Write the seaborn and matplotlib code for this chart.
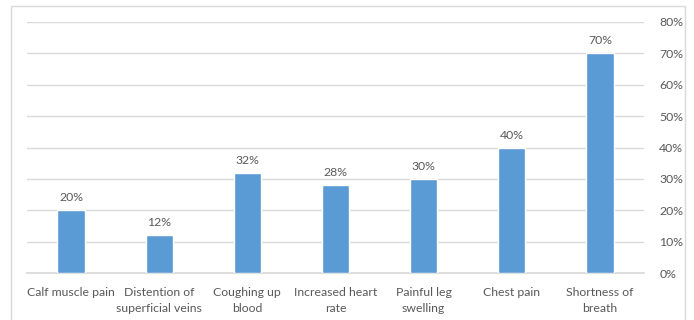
import matplotlib
matplotlib.use("Agg")
import matplotlib.pyplot as plt
from matplotlib.patches import Rectangle
from matplotlib.ticker import PercentFormatter
import seaborn as sns
import pandas as pd

symptoms = ["Calf muscle pain", "Distention of\nsuperficial veins", "Coughing up\nblood",
            "Increased heart\nrate", "Painful leg\nswelling", "Chest pain", "Shortness of\nbreath"]
shares = [0.20, 0.12, 0.32, 0.28, 0.30, 0.40, 0.70]
y_ticks = [0.0, 0.1, 0.2, 0.3, 0.4, 0.5, 0.6, 0.7, 0.8]

sns.set_theme(style="white")
plt.rcParams["font.family"] = ["Lato", "DejaVu Sans"]

text_color = "#595959"
grid_color = "#D9D9D9"
bar_color = "#5B9BD5"
fs = 8.8

fig = plt.figure(figsize=(6.94, 3.20), dpi=100)
fig.patch.set_facecolor("white")
fig.patches.append(Rectangle((11 / 694, -0.05), 674 / 694, 1.05 - 6 / 320,
                             transform=fig.transFigure, fill=False,
                             edgecolor=grid_color, linewidth=1.0))

ax = fig.add_axes([27 / 694, 1 - 273 / 320, 617 / 694, 251 / 320])
df = pd.DataFrame({"symptom": symptoms, "share": shares})
sns.barplot(data=df, x="symptom", y="share", color=bar_color, saturation=1,
            width=0.31, ax=ax, zorder=3)

ax.set_ylim(0, 0.8)
ax.set_yticks(y_ticks)
ax.yaxis.set_major_formatter(PercentFormatter(1.0, decimals=0))
ax.yaxis.tick_right()
ax.grid(axis="y", color=grid_color, linewidth=1.0, zorder=0)
ax.set_axisbelow(True)
for side in ["top", "right", "left"]:
    ax.spines[side].set_visible(False)
ax.spines["bottom"].set_color(grid_color)
ax.set_xlabel("")
ax.set_ylabel("")
ax.tick_params(axis="y", length=0, pad=11, labelsize=fs, labelcolor=text_color)
ax.tick_params(axis="x", length=0, pad=10, labelsize=fs, labelcolor=text_color)
ax.set_xticks(range(len(symptoms)))
ax.set_xticklabels(symptoms, linespacing=1.6, multialignment="center")
for lbl in ax.get_yticklabels():
    lbl.set_horizontalalignment("left")

for container in ax.containers:
    ax.bar_label(container, labels=[f"{v:.0%}" for v in shares], padding=5,
                 fontsize=fs, color=text_color)

fig.savefig("out.png", dpi=100)
